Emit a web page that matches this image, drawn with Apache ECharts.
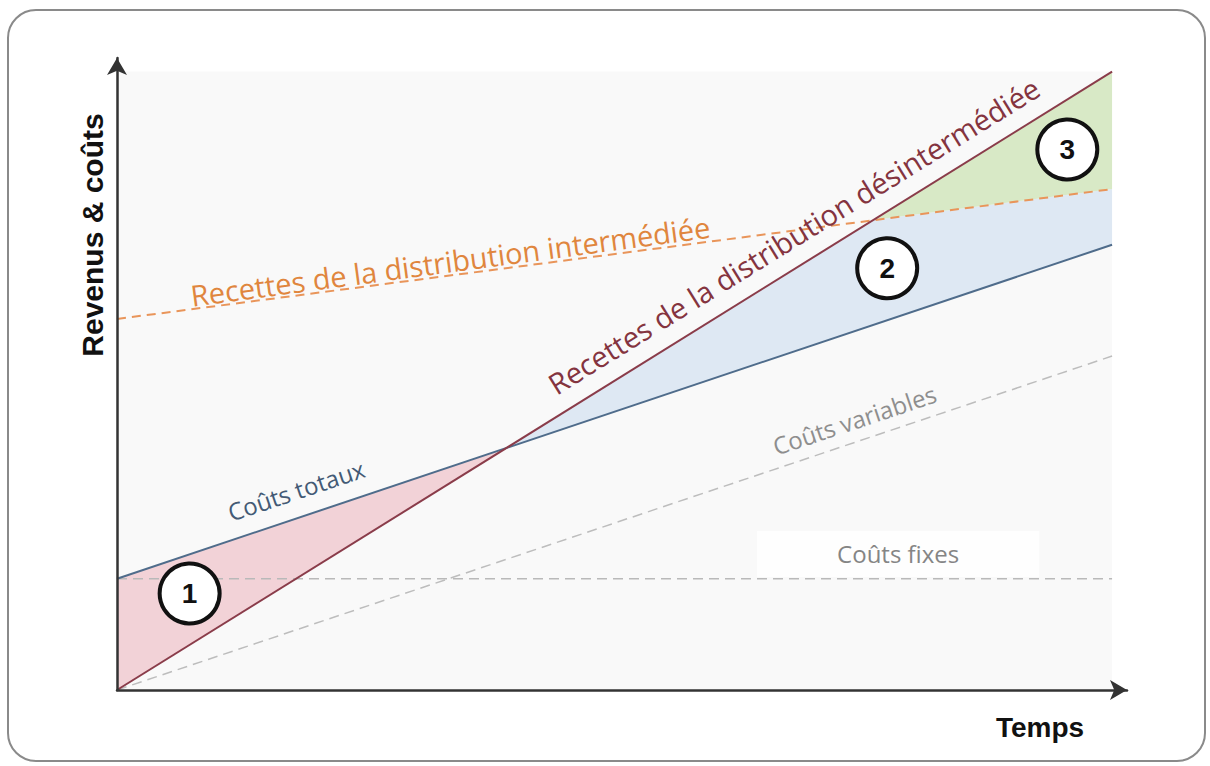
<!DOCTYPE html>
<html>
<head>
<meta charset="utf-8">
<script src="https://cdn.jsdelivr.net/npm/echarts@6/dist/echarts.min.js"></script>
<style>
  html, body { margin: 0; padding: 0; background: #fff; }
  #main { width: 1210px; height: 766px; }
</style>
</head>
<body>
<div id="main"></div>
<script>
// droites (x = temps, y = revenus & coûts, unités arbitraires 0..100)
const recettesDesintermediees = [[0, 0], [100, 100]];
const recettesIntermediees = [[0, 60], [100, 81]];
const coutsTotaux = [[0, 18], [100, 72]];
const coutsFixes = [[0, 18], [100, 18]];
const coutsVariables = [[0, 0], [100, 54]];

// zones colorées (sommets)
const zone1 = [[0, 18], [39, 39], [0, 0]];
const zone2 = [[39, 39], [76, 76], [100, 81], [100, 72]];
const zone3 = [[76, 76], [100, 100], [100, 81]];
const zones = [zone1, zone2, zone3];
const zoneColors = ['#f2d2d7', '#dee8f3', '#d8e9c6'];

// repères numérotés
const marqueurs = [[7.3, 15.6, '1'], [77.4, 68.2, '2'], [95.5, 87.4, '3']];

const font = '"Open Sans", "Liberation Sans", Arial, sans-serif';
const boldFont = '"Liberation Sans", Arial, sans-serif';

function lineSerie(name, data, color, width, type, z) {
  return {
    name: name,
    type: 'line',
    data: data,
    symbol: 'none',
    silent: true,
    z: z || 3,
    lineStyle: { color: color, width: width, type: type || 'solid' }
  };
}

function texte(x, y, str, rotate, color, size, extra) {
  return {
    value: [x, y],
    label: Object.assign({
      show: true,
      position: 'inside',
      formatter: str,
      rotate: rotate,
      color: color,
      fontSize: size,
      fontFamily: font
    }, extra || {})
  };
}

const chart = echarts.init(document.getElementById('main'), null, { renderer: 'svg' });

chart.setOption({
  animation: false,
  backgroundColor: '#fff',
  grid: { left: 117, right: 83, top: 58, bottom: 76 },
  xAxis: {
    type: 'value', min: 0, max: 101.5,
    axisLine: { show: true, symbol: ['none', 'arrow'], symbolSize: [15, 17], lineStyle: { color: '#333', width: 2.5 } },
    axisTick: { show: false }, axisLabel: { show: false }, splitLine: { show: false },
    z: 10
  },
  yAxis: {
    type: 'value', min: 0, max: 102.2,
    axisLine: { show: true, symbol: ['none', 'arrow'], symbolSize: [15, 17], lineStyle: { color: '#333', width: 2.5 } },
    axisTick: { show: false }, axisLabel: { show: false }, splitLine: { show: false },
    z: 10
  },
  graphic: [
    {
      type: 'rect', z: -10, silent: true,
      shape: { x: 8, y: 10, width: 1197, height: 751, r: 28 },
      style: { fill: 'none', stroke: '#8a8a8a', lineWidth: 2 }
    },
    {
      type: 'text', x: 1040, y: 727, silent: true,
      style: { text: 'Temps', fontSize: 28, fontWeight: 'bold', fontFamily: boldFont, fill: '#111', align: 'center', verticalAlign: 'middle' }
    },
    {
      type: 'text', x: 92, y: 235, rotation: Math.PI / 2, silent: true,
      style: { text: 'Revenus & coûts', fontSize: 30, fontWeight: 'bold', fontFamily: boldFont, fill: '#111', align: 'center', verticalAlign: 'middle' }
    }
  ],
  series: [
    {
      // fond de la zone de tracé
      type: 'custom',
      silent: true,
      z: 0,
      data: [0],
      renderItem: function (params, api) {
        const p0 = api.coord([0, 100]);
        const p1 = api.coord([100, 0]);
        return { type: 'rect', shape: { x: p0[0], y: p0[1], width: p1[0] - p0[0], height: p1[1] - p0[1] }, style: { fill: '#f9f9f9' } };
      }
    },
    {
      type: 'custom',
      silent: true,
      z: 1,
      data: [0, 1, 2],
      renderItem: function (params, api) {
        const idx = api.value(0);
        const pts = zones[idx].map(function (p) { return api.coord(p); });
        return { type: 'polygon', shape: { points: pts }, style: { fill: zoneColors[idx] } };
      }
    },
    lineSerie('Coûts fixes', coutsFixes, '#b9b9b9', 1.5, [10, 6], 2),
    lineSerie('Coûts variables', coutsVariables, '#bdbdbd', 1.5, [10, 6], 2),
    lineSerie('Recettes de la distribution intermédiée', recettesIntermediees, '#e9955a', 2, [9, 6], 3),
    lineSerie('Coûts totaux', coutsTotaux, '#4f6c8b', 2, 'solid', 3),
    lineSerie('Recettes de la distribution désintermédiée', recettesDesintermediees, '#8a3c4a', 2, 'solid', 4),
    {
      // étiquettes des droites
      type: 'scatter',
      silent: true,
      z: 6,
      symbolSize: 1,
      itemStyle: { color: 'rgba(0,0,0,0)', opacity: 1 },
      data: [
        texte(68.0, 73.5, 'Recettes de la distribution désintermédiée', 31.8, '#84343f', 29),
        texte(33.5, 69.4, 'Recettes de la distribution intermédiée', 7.6, '#e0863e', 29),
        texte(18.0, 32.3, 'Coûts totaux', 18.5, '#435a75', 24),
        texte(74.1, 43.7, 'Coûts variables', 18.5, '#8e8e8e', 24),
        texte(78.5, 22.0, 'Coûts fixes', 0, '#858585', 24, { backgroundColor: '#fefefe', padding: [11, 80] })
      ]
    },
    {
      type: 'scatter',
      silent: true,
      z: 7,
      symbol: 'circle',
      symbolSize: 60,
      itemStyle: { color: '#fff', borderColor: '#111', borderWidth: 4, opacity: 1 },
      label: {
        show: true, position: 'inside',
        formatter: function (p) { return p.value[2]; },
        color: '#111', fontSize: 28, fontWeight: 'bold', fontFamily: boldFont
      },
      data: marqueurs
    }
  ]
});
</script>
</body>
</html>
